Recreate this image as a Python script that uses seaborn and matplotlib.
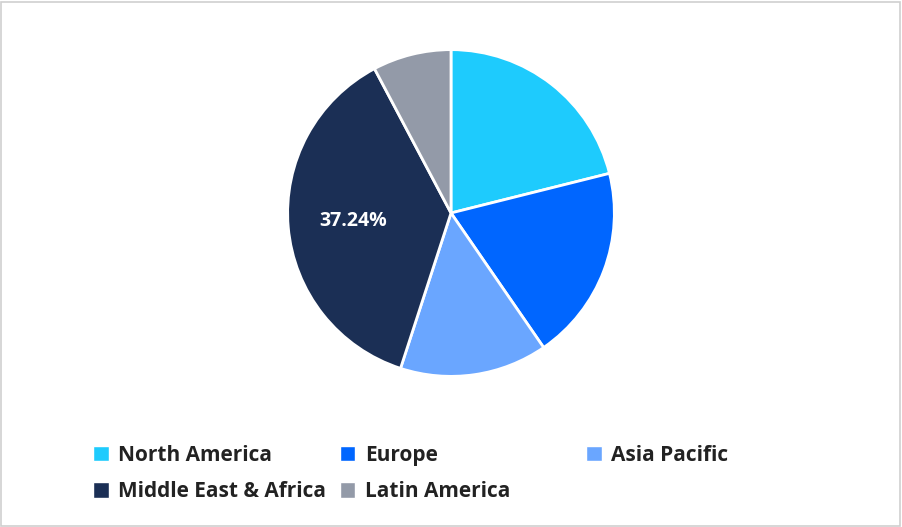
import matplotlib
matplotlib.use("Agg")
import matplotlib.pyplot as plt
from matplotlib.patches import Patch, Rectangle
import seaborn as sns

# Data
regions = ['North America', 'Europe', 'Asia Pacific', 'Middle East & Africa', 'Latin America']
shares = [21.1, 19.3, 14.6, 37.24, 7.76]
colors = sns.color_palette(['#1ECBFD', '#0066FF', '#6AA6FF', '#1B2F55', '#939AA8'])

sns.set_theme(style="white")
plt.rcParams['font.family'] = ['Open Sans', 'DejaVu Sans']

fig = plt.figure(figsize=(9.02, 5.27), dpi=100)
fig.patches.append(Rectangle((0.001, 0.002), 0.997, 0.995, transform=fig.transFigure,
                             fill=False, edgecolor='#CFCFCF', linewidth=1.2))

ax = fig.add_axes([286 / 902, 149 / 527, 330 / 902, 330 / 527])
wedges, texts, autotexts = ax.pie(
    shares, colors=colors, startangle=90, counterclock=False,
    wedgeprops=dict(edgecolor='white', linewidth=2),
    autopct=lambda p: f'{p:.2f}%' if p > 30 else '', pctdistance=0.6,
    textprops=dict(color='white', fontsize=14, fontweight='bold'))
ax.set_xlim(-1.01, 1.01)
ax.set_ylim(-1.01, 1.01)
ax.set_aspect('equal')

# legend columns (indices into regions) and their left edges in figure fraction
columns = [[0, 3], [1, 4], [2]]
col_x = [0.092, 0.365, 0.638]
for idx, x in zip(columns, col_x):
    handles = [Patch(facecolor=colors[i], label=regions[i]) for i in idx]
    fig.legend(handles=handles, loc='upper left', bbox_to_anchor=(x, 0.176), ncol=1,
               frameon=False, handlelength=0.75, handleheight=0.75, handletextpad=0.45,
               borderpad=0, labelspacing=0.75, prop=dict(size=15, weight='bold'),
               labelcolor='#222222')

fig.savefig('out.png', dpi=100)
